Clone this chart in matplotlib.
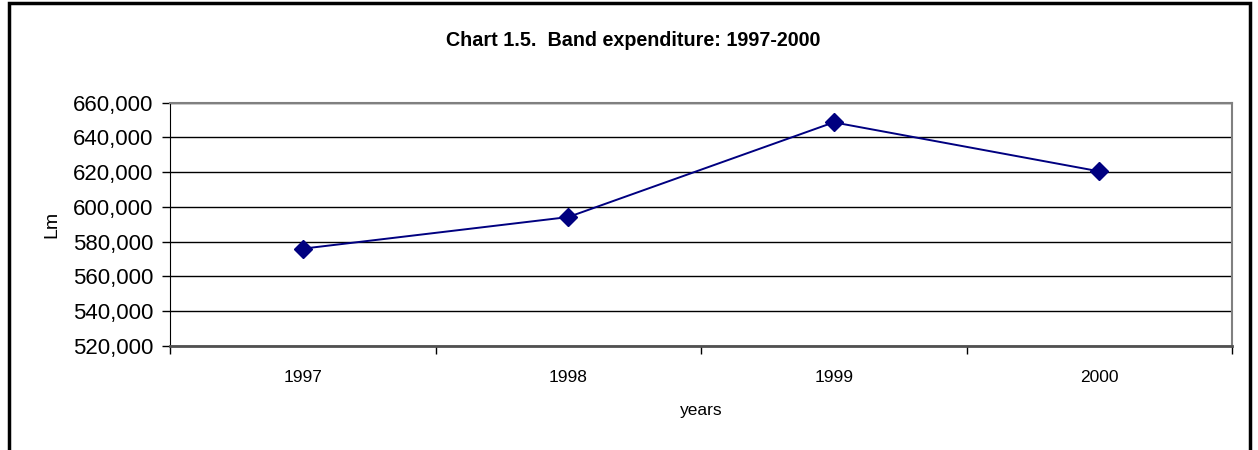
import matplotlib

matplotlib.use("Agg")
import matplotlib.pyplot as plt
from matplotlib.patches import Rectangle
from matplotlib.ticker import FuncFormatter
import numpy as np

YEARS = ["1997", "1998", "1999", "2000"]
SPENDING = [576000, 594200, 648700, 620500]
Y_TICKS = list(range(520000, 660001, 20000))

plt.rcParams["font.family"] = ["Liberation Sans", "DejaVu Sans"]

fig = plt.figure(figsize=(12.58, 4.5), dpi=100)
ax = fig.add_axes([170 / 1258, 1 - 346 / 450, (1232 - 170) / 1258, (346 - 102.7) / 450])

x = np.arange(len(YEARS))
ax.plot(x, SPENDING, color="#000080", lw=1.4, marker="D", markersize=9,
        markerfacecolor="#000080", markeredgecolor="#000080", zorder=3)

ax.set_xlim(-0.5, len(YEARS) - 0.5)
ax.set_ylim(Y_TICKS[0], Y_TICKS[-1])
ax.set_yticks(Y_TICKS)
ax.yaxis.set_major_formatter(FuncFormatter(lambda v, _: f"{int(v):,}"))
ax.tick_params(axis="y", labelsize=16, length=5.5, width=1, color="black", pad=6.5)

# boundary ticks between categories, labels in the middle
ax.set_xticks(np.arange(-0.5, len(YEARS), 1.0))
ax.set_xticklabels([])
ax.set_xticks(x, minor=True)
ax.set_xticklabels(YEARS, minor=True)
ax.tick_params(axis="x", which="major", length=6, width=1, color="black")
ax.tick_params(axis="x", which="minor", length=0, labelsize=12.5, pad=17)

ax.grid(axis="y", color="black", lw=1)
ax.set_axisbelow(True)
for side in ["top", "right"]:
    ax.spines[side].set_color("#808080")
    ax.spines[side].set_linewidth(1.5)
ax.spines["left"].set_color("black")
ax.spines["bottom"].set_color("#505050")
ax.spines["bottom"].set_linewidth(2)

ax.set_xlabel("years", fontsize=12.5, labelpad=13)
ax.set_ylabel("Lm", fontsize=14)
ax.yaxis.set_label_coords((60 - 170) / 1062, 0.5)

fig.text(633 / 1258, 1 - 41 / 450, "Chart 1.5.  Band expenditure: 1997-2000",
         ha="center", va="center", fontsize=14.2, fontweight="bold")

# outer chart frame (bottom edge runs off the image)
fig.patches.append(Rectangle((9 / 1258, -0.1), (1250 - 9) / 1258, 1.1 - 3 / 450,
                             transform=fig.transFigure, fill=False,
                             edgecolor="black", lw=2.5))

fig.savefig("out.png", dpi=100)
